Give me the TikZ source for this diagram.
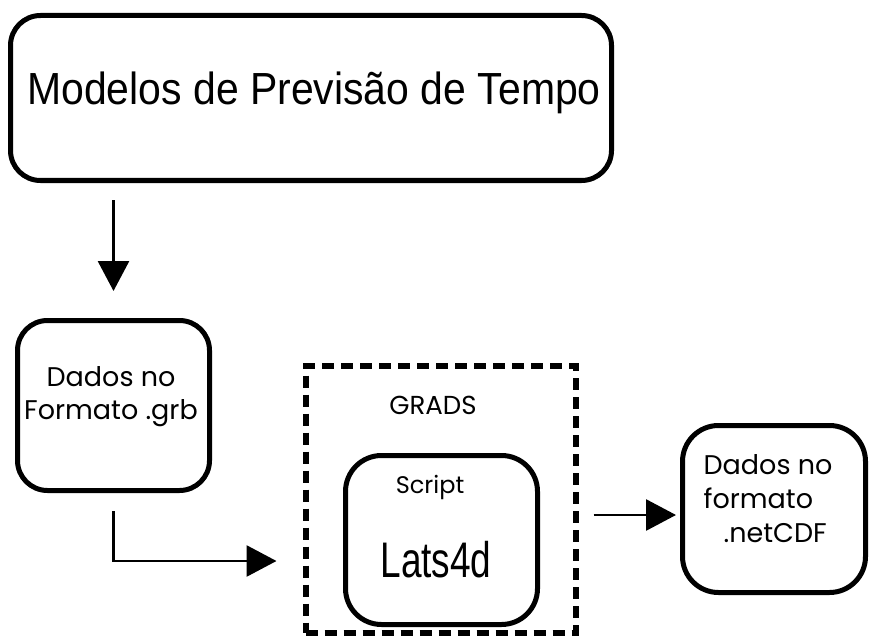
\documentclass[tikz,border=0pt]{standalone}
\usepackage{fontspec}
\setmainfont{Liberation Sans}
\newfontfamily\gothic{Poppins}
\usetikzlibrary{arrows.meta}
\tikzset{
  box/.style={draw, line width=5pt, rounded corners=30pt, inner sep=0pt},
  dashbox/.style={draw, line width=6pt, dash pattern=on 12pt off 7pt, inner sep=0pt},
  arr/.style={line width=2.8pt, -{Triangle[length=30pt,width=31pt]}},
  lbl/.style={inner sep=0pt, align=center},
}
\begin{document}
\begin{tikzpicture}[x=1pt,y=-1pt]
\useasboundingbox (0,0) rectangle (869,639);
% boxes
\node[box, minimum width=601pt, minimum height=165pt] (top) at (311,98) {};
\node[box, minimum width=192pt, minimum height=170pt] (grb) at (113.5,405.5) {};
\node[dashbox, minimum width=270pt, minimum height=267pt] (grads) at (440.5,499) {};
\node[box, rounded corners=36pt, minimum width=192pt, minimum height=169pt] (inner) at (441.5,540) {};
\node[box, rounded corners=36pt, minimum width=183pt, minimum height=167pt] (net) at (774,509) {};
% texts
\node[lbl, font=\fontsize{45}{45}\selectfont, xscale=0.91] (ttop) at (314,93) {Modelos de Previsão de Tempo};
\node[lbl, font=\gothic\fontsize{27}{33}\selectfont] (tgrb) at (111,397) {Dados no\\Formato .grb};
\node[lbl, font=\gothic\fontsize{26}{26}\selectfont] (tgrads) at (433,405) {GRADS};
\node[lbl, font=\gothic\fontsize{24}{24}\selectfont] (tscript) at (430,487) {Script};
\node[lbl, font=\fontsize{50}{50}\selectfont, xscale=0.74] (tlats) at (436,560) {Lats4d};
\node[lbl, font=\gothic\fontsize{27}{34}\selectfont, align=left] (tnet) at (768,499) {Dados no\\formato\\\hspace*{20pt}.netCDF};
% connectors
\coordinate (bend) at (113.5,561);
\draw[arr, shorten <=17pt, shorten >=27pt] (top.south -| grb.north) -- (grb.north);
\draw[arr, shorten >=26pt] ([yshift=-18pt]grb.south) -- (bend) -- (bend -| grads.west);
\draw[arr, shorten <=15pt, shorten >=4pt] ([yshift=-6pt]grads.east |- net.west) -- ([yshift=-6pt]net.west);
\end{tikzpicture}
\end{document}
